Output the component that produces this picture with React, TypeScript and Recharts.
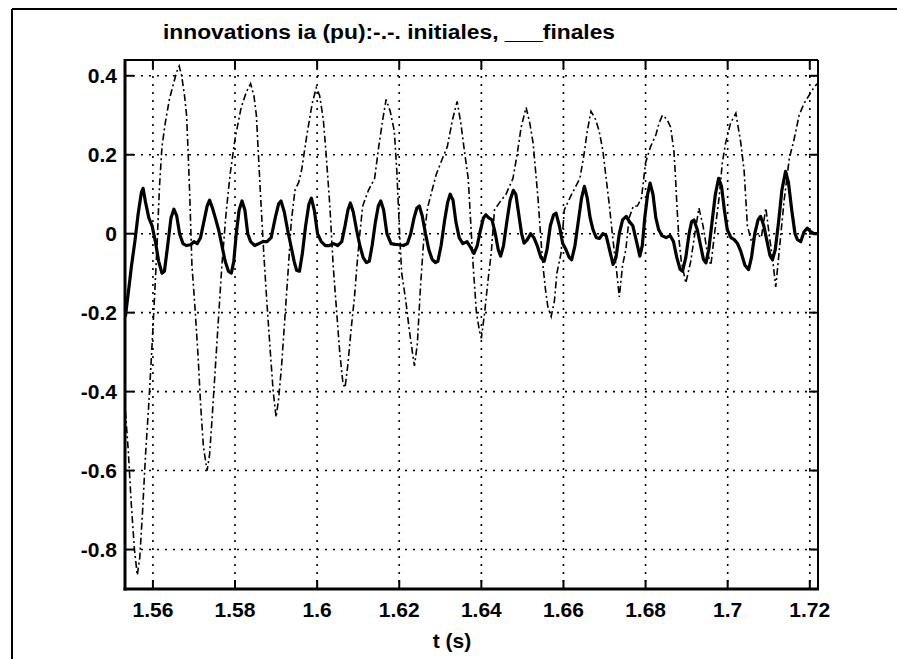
import React from 'react';
import { LineChart, Line, XAxis, YAxis, CartesianGrid } from 'recharts';

const titleText = 'innovations ia (pu):-.-. initiales, ___finales';
const xLabelText = 't (s)';

const xTicks = [1.56, 1.58, 1.6, 1.62, 1.64, 1.66, 1.68, 1.7, 1.72];
const xTickLabels = ['1.56', '1.58', '1.6', '1.62', '1.64', '1.66', '1.68', '1.7', '1.72'];
const yTicks = [0.4, 0.2, 0, -0.2, -0.4, -0.6, -0.8];
const yTickLabels = ['0.4', '0.2', '0', '-0.2', '-0.4', '-0.6', '-0.8'];

// initiales (dash-dot)
const initT = [
  1.5533, 1.5540, 1.5547, 1.5555, 1.5562, 1.5568, 1.5575, 1.5582, 1.5590, 1.5597,
  1.5604, 1.5610, 1.5616, 1.5622, 1.5630, 1.5640, 1.5650, 1.5658, 1.5664, 1.5670,
  1.5677, 1.5682, 1.5686, 1.5690, 1.5695, 1.5702, 1.5710, 1.5716, 1.5723, 1.5732,
  1.5738, 1.5744, 1.5752, 1.5760, 1.5768, 1.5778, 1.5788, 1.5800, 1.5815, 1.5828,
  1.5838, 1.5846, 1.5852, 1.5856, 1.5862, 1.5870, 1.5878, 1.5886, 1.5893, 1.5900,
  1.5906, 1.5913, 1.5921, 1.5929, 1.5937, 1.5946, 1.5955, 1.5962, 1.5975, 1.5988,
  1.5998, 1.6006, 1.6015, 1.6022, 1.6031, 1.6039, 1.6047, 1.6055, 1.6063, 1.6068,
  1.6075, 1.6083, 1.6091, 1.6097, 1.6104, 1.6111, 1.6125, 1.6140, 1.6150, 1.6160,
  1.6168, 1.6178, 1.6188, 1.6194, 1.6200, 1.6206, 1.6216, 1.6224, 1.6232, 1.6237,
  1.6244, 1.6252, 1.6260, 1.6269, 1.6280, 1.6290, 1.6305, 1.6317, 1.6330, 1.6341,
  1.6350, 1.6360, 1.6368, 1.6374, 1.6380, 1.6388, 1.6396, 1.6400, 1.6408, 1.6416,
  1.6424, 1.6432, 1.6445, 1.6460, 1.6477, 1.6487, 1.6497, 1.6509, 1.6518, 1.6526,
  1.6532, 1.6538, 1.6544, 1.6550, 1.6556, 1.6562, 1.6570, 1.6578, 1.6584, 1.6594,
  1.6602, 1.6620, 1.6640, 1.6650, 1.6658, 1.6667, 1.6678, 1.6687, 1.6696, 1.6704,
  1.6712, 1.6720, 1.6730, 1.6736, 1.6744, 1.6752, 1.6760, 1.6770, 1.6780, 1.6790,
  1.6800, 1.6812, 1.6825, 1.6833, 1.6841, 1.6852, 1.6861, 1.6869, 1.6873, 1.6877,
  1.6881, 1.6887, 1.6898, 1.6910, 1.6920, 1.6930, 1.6940, 1.6950, 1.6959, 1.6968,
  1.6979, 1.6987, 1.6995, 1.7007, 1.7020, 1.7032, 1.7040, 1.7044, 1.7048, 1.7058,
  1.7070, 1.7082, 1.7093, 1.7102, 1.7109, 1.7117, 1.7125, 1.7137, 1.7150, 1.7162,
  1.7174, 1.7186, 1.7198, 1.7210, 1.7218,
];
const initV = [
  -0.45, -0.55, -0.68, -0.80, -0.865, -0.82, -0.70, -0.56, -0.43, -0.30,
  -0.16, -0.03, 0.12, 0.22, 0.28, 0.34, 0.38, 0.41, 0.425, 0.40,
  0.35, 0.30, 0.20, 0.09, -0.08, -0.18, -0.31, -0.43, -0.54, -0.60,
  -0.56, -0.47, -0.34, -0.21, -0.08, 0.05, 0.15, 0.24, 0.32, 0.36,
  0.38, 0.35, 0.30, 0.22, 0.10, -0.05, -0.18, -0.30, -0.40, -0.465,
  -0.42, -0.34, -0.22, -0.10, 0.03, 0.11, 0.13, 0.16, 0.25, 0.33,
  0.37, 0.35, 0.29, 0.20, 0.07, -0.08, -0.19, -0.30, -0.38, -0.39,
  -0.33, -0.24, -0.16, -0.08, 0.0, 0.07, 0.11, 0.14, 0.22, 0.29,
  0.34, 0.31, 0.26, 0.16, 0.02, -0.10, -0.17, -0.24, -0.30, -0.335,
  -0.28, -0.13, -0.01, 0.066, 0.11, 0.15, 0.19, 0.22, 0.29, 0.335,
  0.28, 0.20, 0.14, 0.03, -0.08, -0.20, -0.25, -0.265, -0.20, -0.12,
  -0.05, 0.06, 0.08, 0.10, 0.14, 0.20, 0.27, 0.32, 0.28, 0.23,
  0.16, 0.09, 0.0, -0.08, -0.14, -0.185, -0.21, -0.17, -0.10, -0.05,
  0.06, 0.10, 0.14, 0.20, 0.26, 0.31, 0.29, 0.26, 0.21, 0.14,
  0.07, -0.01, -0.10, -0.16, -0.08, -0.04, 0.04, 0.07, 0.07, 0.09,
  0.18, 0.22, 0.25, 0.28, 0.30, 0.29, 0.27, 0.21, 0.14, 0.06,
  -0.01, -0.07, -0.125, -0.07, 0.0, 0.065, 0.02, -0.045, -0.08, 0.0,
  0.09, 0.18, 0.23, 0.28, 0.305, 0.23, 0.16, 0.09, 0.02, -0.02,
  0.0, -0.01, 0.065, -0.01, -0.06, -0.135, -0.05, 0.08, 0.19, 0.24,
  0.30, 0.33, 0.35, 0.37, 0.38,
];

// finales (solid)
const finT = [
  1.5533, 1.5540, 1.5548, 1.5556, 1.5564, 1.5572, 1.5576, 1.5582, 1.5590, 1.5598,
  1.5606, 1.5614, 1.5622, 1.5628, 1.5636, 1.5644, 1.5651, 1.5658, 1.5665, 1.5673,
  1.5682, 1.5692, 1.5700, 1.5708, 1.5716, 1.5724, 1.5732, 1.5738, 1.5745, 1.5752,
  1.5760, 1.5768, 1.5776, 1.5784, 1.5791, 1.5797, 1.5803, 1.5810, 1.5817, 1.5824,
  1.5831, 1.5838, 1.5848, 1.5858, 1.5868, 1.5878, 1.5888, 1.5898, 1.5906, 1.5912,
  1.5920, 1.5928, 1.5936, 1.5944, 1.5950, 1.5957, 1.5964, 1.5972, 1.5980, 1.5986,
  1.5993, 1.6001, 1.6010, 1.6020, 1.6030, 1.6040, 1.6050, 1.6060, 1.6068, 1.6075,
  1.6081, 1.6088, 1.6096, 1.6104, 1.6112, 1.6120, 1.6127, 1.6134, 1.6142, 1.6149,
  1.6155, 1.6162, 1.6170, 1.6180, 1.6190, 1.6200, 1.6210, 1.6220, 1.6228, 1.6236,
  1.6243, 1.6249, 1.6256, 1.6264, 1.6272, 1.6280, 1.6288, 1.6294, 1.6302, 1.6310,
  1.6318, 1.6324, 1.6331, 1.6338, 1.6346, 1.6355, 1.6365, 1.6374, 1.6382, 1.6390,
  1.6398, 1.6405, 1.6411, 1.6418, 1.6426, 1.6434, 1.6441, 1.6447, 1.6454, 1.6462,
  1.6470, 1.6478, 1.6484, 1.6491, 1.6498, 1.6504, 1.6512, 1.6520, 1.6528, 1.6536,
  1.6545, 1.6553, 1.6560, 1.6568, 1.6576, 1.6582, 1.6590, 1.6598, 1.6606, 1.6614,
  1.6620, 1.6628, 1.6636, 1.6644, 1.6651, 1.6658, 1.6665, 1.6672, 1.6680, 1.6688,
  1.6696, 1.6704, 1.6712, 1.6721, 1.6728, 1.6736, 1.6744, 1.6753, 1.6761, 1.6769,
  1.6778, 1.6786, 1.6792, 1.6798, 1.6805, 1.6811, 1.6818, 1.6825, 1.6832, 1.6840,
  1.6850, 1.6860, 1.6868, 1.6876, 1.6884, 1.6890, 1.6898, 1.6906, 1.6912, 1.6918,
  1.6926, 1.6934, 1.6941, 1.6947, 1.6954, 1.6962, 1.6970, 1.6978, 1.6985, 1.6992,
  1.6999, 1.7008, 1.7016, 1.7024, 1.7032, 1.7042, 1.7051, 1.7058, 1.7066, 1.7074,
  1.7080, 1.7088, 1.7096, 1.7103, 1.7109, 1.7116, 1.7124, 1.7132, 1.7141, 1.7148,
  1.7156, 1.7164, 1.7170, 1.7178, 1.7186, 1.7194, 1.7202, 1.7210, 1.7218,
];
const finV = [
  -0.21, -0.15, -0.08, -0.02, 0.05, 0.105, 0.115, 0.08, 0.04, 0.02,
  -0.02, -0.07, -0.10, -0.095, -0.03, 0.04, 0.062, 0.045, 0.0, -0.025,
  -0.03, -0.028, -0.02, -0.025, -0.01, 0.03, 0.07, 0.085, 0.065, 0.04,
  0.01, -0.03, -0.07, -0.095, -0.10, -0.07, 0.0, 0.06, 0.083, 0.06,
  0.0, -0.02, -0.03, -0.025, -0.02, -0.02, -0.01, 0.04, 0.075, 0.083,
  0.055, 0.01, -0.03, -0.07, -0.093, -0.095, -0.05, 0.02, 0.075, 0.09,
  0.06, 0.0, -0.02, -0.03, -0.03, -0.025, -0.03, -0.02, 0.02, 0.06,
  0.078, 0.055, 0.01, -0.03, -0.06, -0.073, -0.07, -0.03, 0.03, 0.07,
  0.083, 0.06, 0.0, -0.025, -0.027, -0.028, -0.03, -0.025, 0.0, 0.04,
  0.065, 0.07, 0.045, 0.0, -0.04, -0.065, -0.073, -0.07, -0.03, 0.03,
  0.08, 0.10, 0.085, 0.03, -0.01, -0.025, -0.02, -0.035, -0.05, -0.03,
  0.01, 0.04, 0.048, 0.04, 0.035, 0.0, -0.04, -0.057, -0.03, 0.03,
  0.085, 0.11, 0.10, 0.05, 0.0, -0.024, -0.015, 0.0, -0.01, -0.03,
  -0.06, -0.07, -0.04, 0.02, 0.048, 0.052, 0.02, -0.024, -0.04, -0.06,
  -0.066, -0.03, 0.03, 0.09, 0.12, 0.09, 0.04, 0.01, -0.01, -0.012,
  0.0, -0.005, -0.04, -0.078, -0.06, 0.0, 0.035, 0.044, 0.03, 0.02,
  -0.02, -0.057, -0.03, 0.04, 0.10, 0.128, 0.10, 0.04, 0.01, -0.005,
  -0.01, -0.005, -0.02, -0.06, -0.09, -0.095, -0.06, 0.0, 0.03, 0.035,
  0.01, -0.03, -0.065, -0.074, -0.04, 0.03, 0.10, 0.14, 0.12, 0.06,
  0.01, -0.01, -0.015, -0.025, -0.045, -0.08, -0.091, -0.06, 0.0, 0.035,
  0.044, 0.02, -0.02, -0.055, -0.066, -0.04, 0.03, 0.11, 0.158, 0.13,
  0.06, 0.0, -0.015, -0.02, 0.005, 0.014, 0.005, 0.0, 0.0,
];

const initData = initT.map((t, i) => ({ t, v: initV[i] }));
const finData = finT.map((t, i) => ({ t, v: finV[i] }));

const W = 897;
const H = 659;
const PL = 125;
const PR = 818;
const PT = 60;
const PB = 589;
const X_DOMAIN: [number, number] = [1.5532, 1.722];
const Y_DOMAIN: [number, number] = [-0.9, 0.44];
const FONT = '"Liberation Sans", Arial, Helvetica, sans-serif';
const TICK_LEN = 9;

const near = (a: number, b: number) => Math.abs(a - b) < 1e-6;

const YTick = (props: any) => {
  const { y, payload } = props;
  const i = yTicks.findIndex((v) => near(v, payload.value));
  return (
    <g>
      <text x={PL - 8} y={y} textAnchor="end" dominantBaseline="central"
        fontFamily={FONT} fontSize={21} fontWeight={700} fill="#000">
        {i >= 0 ? yTickLabels[i] : ''}
      </text>
      <line x1={PL} x2={PL + TICK_LEN} y1={y} y2={y} stroke="#000" strokeWidth={2} />
      <line x1={PR - TICK_LEN} x2={PR} y1={y} y2={y} stroke="#000" strokeWidth={2} />
    </g>
  );
};

const XTick = (props: any) => {
  const { x, payload } = props;
  const i = xTicks.findIndex((v) => near(v, payload.value));
  return (
    <g>
      <text x={x} y={609} textAnchor="middle" dominantBaseline="central"
        fontFamily={FONT} fontSize={21} fontWeight={700} fill="#000">
        {i >= 0 ? xTickLabels[i] : ''}
      </text>
      <line x1={x} x2={x} y1={PB - TICK_LEN} y2={PB} stroke="#000" strokeWidth={2} />
      <line x1={x} x2={x} y1={PT} y2={PT + TICK_LEN} stroke="#000" strokeWidth={2} />
    </g>
  );
};

export default function App() {
  return (
    <div style={{ position: 'absolute', left: 0, top: 0, width: W, height: H, background: '#fff' }}>
      <LineChart width={W} height={H}
        margin={{ top: PT, right: W - PR, bottom: 10, left: PL - 60 }}>
        <CartesianGrid stroke="#000" strokeWidth={1.6} strokeDasharray="2 6" />
        <XAxis dataKey="t" type="number" domain={X_DOMAIN} allowDataOverflow
          ticks={xTicks} tick={<XTick />} tickLine={false} axisLine={false}
          height={H - PB - 10} interval={0} />
        <YAxis type="number" domain={Y_DOMAIN} allowDataOverflow ticks={yTicks}
          tick={<YTick />} tickLine={false} axisLine={false} width={60} interval={0} />
        <Line data={initData} dataKey="v" type="linear" stroke="#000" strokeWidth={1.6}
          strokeDasharray="7 3 2 3" dot={false} isAnimationActive={false} />
        <Line data={finData} dataKey="v" type="linear" stroke="#000" strokeWidth={3.2}
          strokeLinejoin="round" dot={false} isAnimationActive={false} />
      </LineChart>
      <svg width={W} height={H} style={{ position: 'absolute', left: 0, top: 0, pointerEvents: 'none' }}>
        <line x1={12} y1={9} x2={W} y2={9} stroke="#000" strokeWidth={2} />
        <line x1={12} y1={9} x2={12} y2={H} stroke="#000" strokeWidth={2} />
        <line x1={PL} y1={PT} x2={PR} y2={PT} stroke="#000" strokeWidth={2} />
        <line x1={PR} y1={PT} x2={PR} y2={PB} stroke="#000" strokeWidth={2} />
        <line x1={PL} y1={PT - 1} x2={PL} y2={PB + 1.5} stroke="#000" strokeWidth={3} />
        <line x1={PL - 1.5} y1={PB} x2={PR + 1} y2={PB} stroke="#000" strokeWidth={3} />
        <text x={389} y={39} textAnchor="middle" fontFamily={FONT} fontSize={20} fontWeight={700}
          fill="#000" textLength={452} lengthAdjust="spacingAndGlyphs">{titleText}</text>
        <text x={452} y={640} textAnchor="middle" dominantBaseline="central" fontFamily={FONT}
          fontSize={21} fontWeight={700} fill="#000">{xLabelText}</text>
      </svg>
    </div>
  );
}
